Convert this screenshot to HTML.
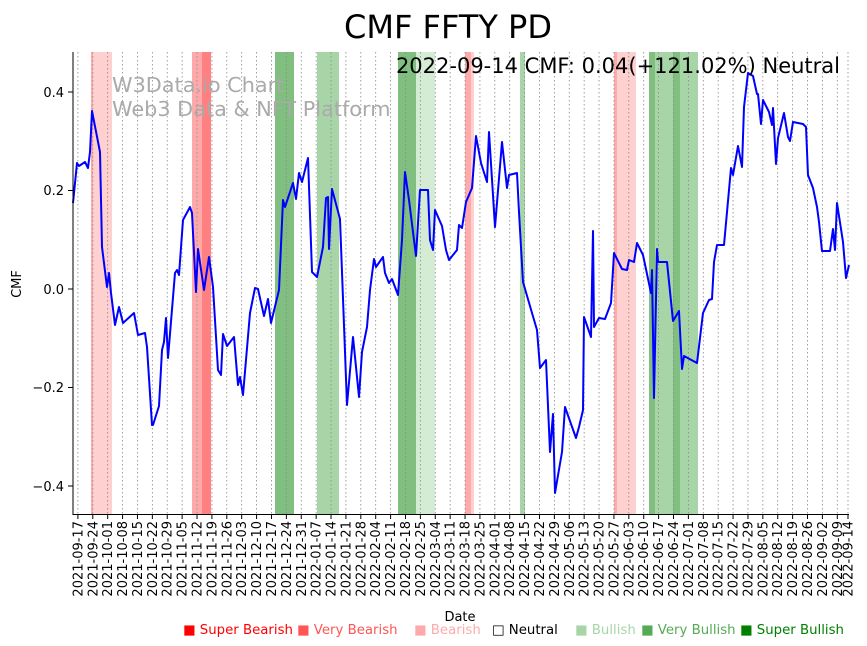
<!DOCTYPE html>
<html><head><meta charset="utf-8"><style>
body{margin:0;background:#fff;}
svg{display:block;font-family:"DejaVu Sans","Liberation Sans",sans-serif;}
</style></head><body>
<svg id="s" width="867" height="646" viewBox="0 0 867 646" xmlns="http://www.w3.org/2000/svg">
<rect width="867" height="646" fill="#fff"/>
<g id="bands">
<rect x="91" y="52" width="21" height="462" fill="#ffd0d0"/>
<rect x="91" y="52" width="2" height="462" fill="#ffaaaa"/>
<rect x="192" y="52" width="10" height="462" fill="#ffaaaa"/>
<rect x="202" y="52" width="9" height="462" fill="#ff8080"/>
<rect x="275" y="52" width="19" height="462" fill="#80bf80"/>
<rect x="317" y="52" width="22" height="462" fill="#a8d5a8"/>
<rect x="398" y="52" width="18" height="462" fill="#80bf80"/>
<rect x="416" y="52" width="19" height="462" fill="#d4ebd4"/>
<rect x="465" y="52" width="6" height="462" fill="#ffaaaa"/>
<rect x="471" y="52" width="3" height="462" fill="#ffd0d0"/>
<rect x="520" y="52" width="5" height="462" fill="#a8d5a8"/>
<rect x="614" y="52" width="22" height="462" fill="#ffd0d0"/>
<rect x="614" y="52" width="3" height="462" fill="#ffaaaa"/>
<rect x="649" y="52" width="6" height="462" fill="#80bf80"/>
<rect x="655" y="52" width="18" height="462" fill="#a8d5a8"/>
<rect x="673" y="52" width="7" height="462" fill="#80bf80"/>
<rect x="680" y="52" width="18" height="462" fill="#a8d5a8"/>
</g>
<g id="grid"></g>
<text x="112" y="92" font-size="20.8" fill="#aaa">W3Data.io Chart</text>
<text x="112" y="116" font-size="20.8" fill="#aaa">Web3 Data &amp; NFT Platform</text>
<polyline fill="none" stroke="#0000ff" stroke-width="2" stroke-linejoin="round" points="73,203 77,163 79,166 85,162 88,168 90,152 92,111 100,152 102,247 107,287 109,273 111,293 115,325 119,307 123,323 134,313 138,335 145,333 147,347 152,425 153,425 159,406 162,350 164,342 166,318 168,358 175,273 177,270 179,275 183,220 190,207 192,213 196,292 198,249 204,290 209,257 213,287 218,370 221,375 223,334 227,346 234,337 238,385 240,377 243,395 250,313 255,288 258,289 264,316 268,299 271,323 279,290 283,200 285,207 293,183 296,199 299,173 302,182 308,158 312,272 317,277 323,247 326,198 328,197 329,249 332,189 340,219 347,405 353,337 356,367 359,397 362,352 367,327 370,290 374,259 376,267 383,257 385,273 389,283 392,279 398,295 402,240 405,172 409,200 416,256 420,190 428,190 430,240 433,250 435,210 442,226 446,250 449,260 457,250 459,225 462,228 466,202 472,188 476,136 481,163 487,182 489,132 495,227 502,142 507,188 509,175 517,173 519,212 523,282 532,313 537,330 540,368 546,360 550,452 553,414 555,493 562,452 565,407 576,438 579,427 583,410 584,317 591,337 593,231 594,327 599,318 605,319 611,303 614,253 622,269 627,270 629,260 634,262 637,243 643,255 651,293 652,270 654,398 657,249 658,262 667,262 673,321 679,311 682,369 684,356 697,363 703,313 709,300 712,299 714,262 717,245 724,245 731,168 733,175 738,146 742,167 744,107 748,73 753,76 757,94 758,94 761,124 763,100 769,112 772,125 773,108 776,164 778,138 784,113 788,137 790,141 793,122 803,124 806,127 808,175 813,188 817,207 819,222 822,251 830,251 833,229 835,250 837,203 843,242 846,278 849,265"/>
<line x1="73" y1="52" x2="73" y2="515" stroke="#000" stroke-width="1"/>
<line x1="72.5" y1="514.5" x2="849" y2="514.5" stroke="#000" stroke-width="1"/>
<g id="yt" font-size="13" text-anchor="end">
<line x1="68" y1="92" x2="73" y2="92" stroke="#000"/><text x="64" y="97">0.4</text>
<line x1="68" y1="190.5" x2="73" y2="190.5" stroke="#000"/><text x="64" y="195">0.2</text>
<line x1="68" y1="289" x2="73" y2="289" stroke="#000"/><text x="64" y="294">0.0</text>
<line x1="68" y1="387.5" x2="73" y2="387.5" stroke="#000"/><text x="64" y="392">−0.2</text>
<line x1="68" y1="486" x2="73" y2="486" stroke="#000"/><text x="64" y="491">−0.4</text>
</g>
<g id="xt" font-size="13"></g>
<text x="21" y="284" font-size="13" text-anchor="middle" transform="rotate(-90 21 284)">CMF</text>
<text x="460" y="621" font-size="13" text-anchor="middle">Date</text>
<text x="448" y="38" font-size="32" text-anchor="middle">CMF FFTY PD</text>
<text x="840" y="73" font-size="21" text-anchor="end">2022-09-14 CMF: 0.04(+121.02%) Neutral</text>
<g font-size="13.3">
<text x="183" y="634" fill="#ff0000">■ Super Bearish</text>
<text x="297" y="634" fill="#ff5555">■ Very Bearish</text>
<text x="414" y="634" fill="#ffaaaa">■ Bearish</text>
<text x="492" y="634" fill="#000">□ Neutral</text>
<text x="575" y="634" fill="#a8d5a8">■ Bullish</text>
<text x="641" y="634" fill="#55aa55">■ Very Bullish</text>
<text x="740" y="634" fill="#008000">■ Super Bullish</text>
</g>
</svg>
<script>
var ns="http://www.w3.org/2000/svg",g=document.getElementById("grid"),xt=document.getElementById("xt");
function p(n){return n<10?"0"+n:""+n}
function add(x,lbl){
 var l=document.createElementNS(ns,"line");l.setAttribute("x1",x);l.setAttribute("x2",x);l.setAttribute("y1",52);l.setAttribute("y2",514);
 l.setAttribute("stroke","#888");l.setAttribute("stroke-width","0.8");l.setAttribute("stroke-dasharray","1.5,2.5");g.appendChild(l);
 var t=document.createElementNS(ns,"line");t.setAttribute("x1",x);t.setAttribute("x2",x);t.setAttribute("y1",514);t.setAttribute("y2",519);t.setAttribute("stroke","#000");xt.appendChild(t);
 var tx=document.createElementNS(ns,"text");var X=x+4.5,Y=521;tx.setAttribute("x",X);tx.setAttribute("y",Y);tx.setAttribute("text-anchor","end");
 tx.setAttribute("transform","rotate(-90 "+X+" "+Y+")");tx.textContent=lbl;xt.appendChild(tx);
}
var d0=Date.UTC(2021,8,17);
for(var i=0;i<52;i++){var d=new Date(d0+i*7*864e5);add(77.9+14.89*i,d.getUTCFullYear()+"-"+p(d.getUTCMonth()+1)+"-"+p(d.getUTCDate()));}
add(848,"2022-09-14");
</script>
</body></html>
